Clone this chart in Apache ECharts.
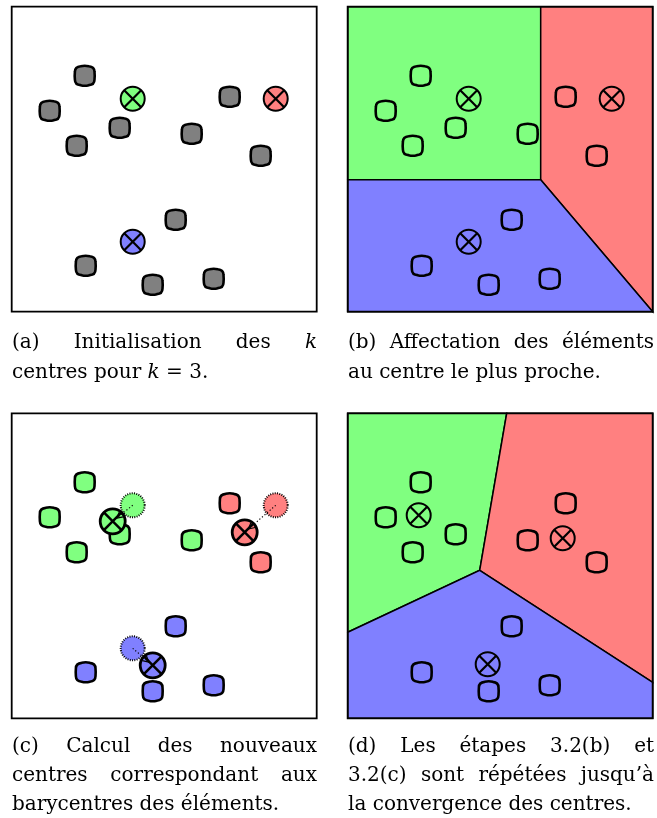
<!DOCTYPE html>
<html>
<head>
<meta charset="utf-8">
<script src="https://cdn.jsdelivr.net/npm/echarts@6.0.0/dist/echarts.min.js"></script>
<style>
html,body{margin:0;padding:0;background:#fff;}
#chart{width:657px;height:818px;}
</style>
</head>
<body>
<div id="chart"></div>
<script>
// ---------- data (panel-local units, 0..305, y downward) ----------
const elements = [[73,69],[38,104],[108,121],[65,139],[218,90],[180,127],[249,149],[164,213],[74,259],[141,278],[202,272]];
const clusterC = [0,0,0,0,1,0,1,2,2,2,2];            // 0 green, 1 red, 2 blue
const centersInit = [[121,92],[264,92],[121,235]];     // (a), (b) and old centres in (c)
const centersNew  = [[101,108],[233,119],[141,252]];   // new centres in (c)
const centersD    = [[71,102],[215,125],[140,251]];    // (d)
const regionsB = [
  {c:0, pts:[[0,0],[193,0],[193,173],[0,173]]},
  {c:1, pts:[[193,0],[305,0],[305,305],[193,173]]},
  {c:2, pts:[[0,173],[193,173],[305,305],[0,305]]}
];
const regionsD = [
  {c:0, pts:[[0,0],[159,0],[132,157],[0,219]]},
  {c:1, pts:[[159,0],[305,0],[305,269],[132,157]]},
  {c:2, pts:[[0,219],[132,157],[305,269],[305,305],[0,305]]}
];
const captionA = [['(a)','Initialisation','des',{t:'k',i:1}], ['centres','pour',{t:'k',i:1},'=','3.']];
const captionB = [['(b)','Affectation','des','éléments'], ['au','centre','le','plus','proche.']];
const captionC = [['(c)','Calcul','des','nouveaux'], ['centres','correspondant','aux'], ['barycentres','des','éléments.']];
const captionD = [['(d)','Les','étapes','3.2(b)','et'], ['3.2(c)','sont','répétées','jusqu’à'], ['la','convergence','des','centres.']];

// ---------- style / layout ----------
const COLORS = ['#80ff80','#ff8080','#8080ff'];
const GRAY = '#808080';
const SIZE = 305;
const panels = [{left:11.7, top:6.7},{left:347.7, top:6.7},{left:11.7, top:413.3},{left:347.7, top:413.3}];
const BARREL = 'path://M6,0.5 Q10,-0.6 14,0.5 Q19.5,1 19.6,6 Q20,10 19.6,14 Q19.5,19 14,19.5 Q10,20.6 6,19.5 Q0.5,19 0.4,14 Q0,10 0.4,6 Q0.5,1 6,0.5 Z';
const FS = 20;
const FAMILY = '"DejaVu Serif"';

const chart = echarts.init(document.getElementById('chart'), null, {renderer:'canvas'});

function regionSeries(gi, regions){
  return {type:'custom', coordinateSystem:'cartesian2d', xAxisIndex:gi, yAxisIndex:gi, z:1, silent:true,
    data: regions.map(r=>r.pts[0]),
    renderItem:(params, api)=>{
      const r = regions[params.dataIndex];
      return {type:'polygon', shape:{points:r.pts.map(p=>api.coord(p))},
        style:{fill:COLORS[r.c], stroke:'#000', lineWidth:1.5}};
    }};
}
function frameSeries(gi){
  return {type:'custom', coordinateSystem:'cartesian2d', xAxisIndex:gi, yAxisIndex:gi, z:10, silent:true,
    data:[[0,0]],
    renderItem:(params, api)=>{
      const a = api.coord([0,0]), b = api.coord([SIZE,SIZE]);
      return {type:'rect', shape:{x:a[0], y:a[1], width:b[0]-a[0], height:b[1]-a[1]},
        style:{fill:'none', stroke:'#000', lineWidth:1.8}};
    }};
}
function elementSeries(gi, colorFn){
  return {type:'scatter', xAxisIndex:gi, yAxisIndex:gi, z:3, silent:true,
    symbol:BARREL, symbolSize:[20,20],
    data: elements.map((p,i)=>({value:p, itemStyle:{color:colorFn(i), opacity:1, borderColor:'#000', borderWidth:2.6}}))};
}
function centerSeries(gi, centers, filled, r, lw, xlw){
  return {type:'custom', coordinateSystem:'cartesian2d', xAxisIndex:gi, yAxisIndex:gi, z:5, silent:true,
    data: centers,
    renderItem:(params, api)=>{
      const c = api.coord(centers[params.dataIndex]);
      const d = r*0.7071;
      return {type:'group', children:[
        {type:'circle', shape:{cx:c[0], cy:c[1], r:r}, style:{fill: filled ? COLORS[params.dataIndex] : 'none', stroke:'#000', lineWidth:lw}},
        {type:'line', shape:{x1:c[0]-d, y1:c[1]-d, x2:c[0]+d, y2:c[1]+d}, style:{stroke:'#000', lineWidth:xlw}},
        {type:'line', shape:{x1:c[0]-d, y1:c[1]+d, x2:c[0]+d, y2:c[1]-d}, style:{stroke:'#000', lineWidth:xlw}}
      ]};
    }};
}
function oldCenterSeries(gi){
  return {type:'custom', coordinateSystem:'cartesian2d', xAxisIndex:gi, yAxisIndex:gi, z:4, silent:true,
    data: centersInit,
    renderItem:(params, api)=>{
      const c = api.coord(centersInit[params.dataIndex]);
      return {type:'circle', shape:{cx:c[0], cy:c[1], r:12},
        style:{fill:COLORS[params.dataIndex], stroke:'#000', lineWidth:2, lineDash:[1,1.3]}};
    }};
}
function arrowSeries(gi){
  return {type:'custom', coordinateSystem:'cartesian2d', xAxisIndex:gi, yAxisIndex:gi, z:6, silent:true,
    data: centersInit,
    renderItem:(params, api)=>{
      const a = api.coord(centersInit[params.dataIndex]);
      const b = api.coord(centersNew[params.dataIndex]);
      const dx = b[0]-a[0], dy = b[1]-a[1], L = Math.hypot(dx,dy);
      const ux = dx/L, uy = dy/L;
      const tx = b[0]-ux*5, ty = b[1]-uy*5;
      const hl = 6, hw = 3.2;
      const bx = tx-ux*hl, by = ty-uy*hl;
      return {type:'group', children:[
        {type:'line', shape:{x1:a[0], y1:a[1], x2:tx, y2:ty}, style:{stroke:'#000', lineWidth:1.1, lineDash:[1.2,2.2]}},
        {type:'polyline', shape:{points:[[bx-uy*hw, by+ux*hw],[tx,ty],[bx+uy*hw, by-ux*hw]]}, style:{stroke:'#000', fill:'none', lineWidth:1.2}}
      ]};
    }};
}

// ---------- captions ----------
const cvs = document.createElement('canvas');
const ctx = cvs.getContext('2d');
function fontOf(w){ return (w.i ? 'italic ' : '') + FS + 'px ' + FAMILY; }
function measure(w){ ctx.font = fontOf(w); return ctx.measureText(w.t).width; }
function captionGraphics(lines, x0, x1, baseline0, lineStep){
  const out = [];
  lines.forEach((line, li)=>{
    const words = line.map(w => typeof w === 'string' ? {t:w} : w);
    const widths = words.map(measure);
    const total = widths.reduce((s,v)=>s+v,0);
    const last = li === lines.length-1;
    ctx.font = FS + 'px ' + FAMILY;
    const space = ctx.measureText(' ').width;
    const gap = (!last && words.length>1) ? (x1-x0-total)/(words.length-1) : space;
    let x = x0;
    const y = baseline0 + li*lineStep - 0.35*FS;
    words.forEach((w,k)=>{
      out.push({type:'text', x:x, y:y, silent:true,
        style:{text:w.t, font:fontOf(w), fill:'#000', textAlign:'left', textVerticalAlign:'middle', verticalAlign:'middle'}});
      x += widths[k] + gap;
    });
  });
  return out;
}

const graphics = [].concat(
  captionGraphics(captionA, 12, 317, 350, 29.5),
  captionGraphics(captionB, 348, 654, 350, 29.5),
  captionGraphics(captionC, 12, 317, 754, 29),
  captionGraphics(captionD, 348, 654, 754, 29)
);

const option = {
  animation:false,
  backgroundColor:'#fff',
  grid: panels.map(p=>({left:p.left, top:p.top, width:SIZE, height:SIZE, show:false})),
  xAxis: panels.map((p,i)=>({gridIndex:i, type:'value', min:0, max:SIZE, show:false})),
  yAxis: panels.map((p,i)=>({gridIndex:i, type:'value', min:0, max:SIZE, inverse:true, show:false})),
  series: [
    // (a)
    elementSeries(0, ()=>GRAY),
    centerSeries(0, centersInit, true, 12, 2, 2.2),
    frameSeries(0),
    // (b)
    regionSeries(1, regionsB),
    elementSeries(1, ()=>'rgba(0,0,0,0)'),
    centerSeries(1, centersInit, false, 12, 2, 2.2),
    frameSeries(1),
    // (c)
    elementSeries(2, i=>COLORS[clusterC[i]]),
    oldCenterSeries(2),
    centerSeries(2, centersNew, true, 12.5, 2.8, 2.5),
    arrowSeries(2),
    frameSeries(2),
    // (d)
    regionSeries(3, regionsD),
    elementSeries(3, ()=>'rgba(0,0,0,0)'),
    centerSeries(3, centersD, false, 12, 2, 2.2),
    frameSeries(3)
  ],
  graphic: graphics
};
chart.setOption(option);
</script>
</body>
</html>
